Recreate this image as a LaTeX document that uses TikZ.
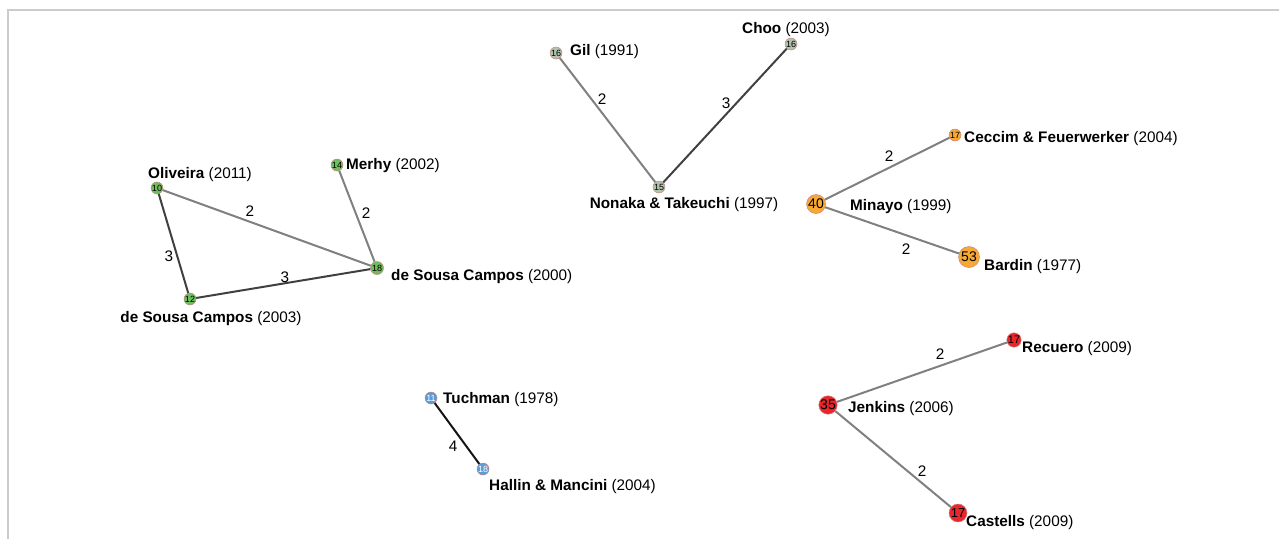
\documentclass[tikz,border=0pt]{standalone}
\usepackage{fontspec}
\setmainfont{Liberation Sans}
\definecolor{ngreen}{HTML}{6DBE5C}
\definecolor{ngray}{HTML}{AFC3AF}
\definecolor{norange}{HTML}{F7A933}
\definecolor{nblue}{HTML}{5B9BD8}
\definecolor{nred}{HTML}{E8262B}
\definecolor{ew2}{HTML}{808080}
\definecolor{ew3}{HTML}{404040}
\definecolor{ew4}{HTML}{151515}
\tikzset{
  vert/.style={circle, draw=red!60!black!50, line width=0.5pt, inner sep=0pt, text=black},
  small/.style={vert, minimum size=12pt, font=\fontsize{9}{9}\selectfont},
  big/.style={vert, font=\fontsize{14}{14}\selectfont},
  lab/.style={font=\fontsize{15.3}{17}\selectfont, inner sep=0pt, yshift=-2pt},
  w2/.style={draw=ew2, line width=2pt},
  w3/.style={draw=ew3, line width=2pt},
  w4/.style={draw=ew4, line width=2pt},
  elab/.style={font=\fontsize{15.3}{17}\selectfont, inner sep=0pt, text=black, yshift=-1pt}
}
\begin{document}
\begin{tikzpicture}[x=1pt,y=-1pt]
\useasboundingbox (0,0) rectangle (1279,539);
\draw[gray!40, line width=1.2pt] (8,539) -- (8,10) -- (1279,10);

% green cluster
\node[small, fill=ngreen] (oli) at (157,188) {10};
\node[small, fill=ngreen] (dsc3) at (190,299) {12};
\node[small, fill=ngreen, minimum size=13pt] (dsc0) at (377,268) {18};
\node[small, fill=ngreen] (mer) at (337,165) {14};
\draw[w2] (oli) -- (dsc0);
\draw[w3] (oli) -- (dsc3);
\draw[w3] (dsc3) -- (dsc0);
\draw[w2] (mer) -- (dsc0);
\node[elab] (e1) at (250,210) {2};
\node[elab] (e2) at (169,255) {3};
\node[elab] (e3) at (285,276) {3};
\node[elab] (e4) at (366,212) {2};
\node[lab] (loli) at (200,173) {\textbf{Oliveira} (2011)};
\node[lab] (ldsc3) at (211,317) {\textbf{de Sousa Campos} (2003)};
\node[lab, anchor=west] (ldsc0) at (391,275) {\textbf{de Sousa Campos} (2000)};
\node[lab, anchor=west] (lmer) at (346,164) {\textbf{Merhy} (2002)};

% gray cluster
\node[small, fill=ngray] (gil) at (556,53) {16};
\node[small, fill=ngray] (choo) at (791,44) {16};
\node[small, fill=ngray] (non) at (659,187) {15};
\draw[w2] (gil) -- (non);
\draw[w3] (choo) -- (non);
\node[elab] (e5) at (602,98) {2};
\node[elab] (e6) at (726,102) {3};
\node[lab, anchor=west] (lgil) at (570,50) {\textbf{Gil} (1991)};
\node[lab] (lchoo) at (786,28) {\textbf{Choo} (2003)};
\node[lab] (lnon) at (684,203) {\textbf{Nonaka \& Takeuchi} (1997)};

% orange cluster
\node[small, fill=norange] (cec) at (955,135) {17};
\node[big, fill=norange, minimum size=19pt] (min) at (816,204) {40};
\node[big, fill=norange, minimum size=21pt] (bar) at (969,257) {53};
\draw[w2] (min) -- (cec);
\draw[w2] (min) -- (bar);
\node[elab] (e7) at (889,155) {2};
\node[elab] (e8) at (906,248) {2};
\node[lab, anchor=west] (lcec) at (964,137) {\textbf{Ceccim \& Feuerwerker} (2004)};
\node[lab, anchor=west] (lmin) at (850,205) {\textbf{Minayo} (1999)};
\node[lab, anchor=west] (lbar) at (984,265) {\textbf{Bardin} (1977)};

% blue cluster
\node[small, fill=nblue, text=white] (tuc) at (431,398) {11};
\node[small, fill=nblue, text=white] (hal) at (483,469) {18};
\draw[w4] (tuc) -- (hal);
\node[elab] (e9) at (453,445) {4};
\node[lab, anchor=west] (ltuc) at (443,398) {\textbf{Tuchman} (1978)};
\node[lab, anchor=west] (lhal) at (489,485) {\textbf{Hallin \& Mancini} (2004)};

% red cluster
\node[vert, fill=nred, minimum size=14pt, font=\fontsize{11}{11}\selectfont] (rec) at (1014,340) {17};
\node[big, fill=nred, minimum size=18pt] (jen) at (828,405) {35};
\node[big, fill=nred, minimum size=18pt, font=\fontsize{13}{13}\selectfont] (cas) at (958,513) {17};
\draw[w2] (jen) -- (rec);
\draw[w2] (jen) -- (cas);
\node[elab] (e10) at (940,353) {2};
\node[elab] (e11) at (922,470) {2};
\node[lab, anchor=west] (lrec) at (1022,347) {\textbf{Recuero} (2009)};
\node[lab, anchor=west] (ljen) at (848,407) {\textbf{Jenkins} (2006)};
\node[lab, anchor=west] (lcas) at (966,521) {\textbf{Castells} (2009)};
\end{tikzpicture}
\end{document}
